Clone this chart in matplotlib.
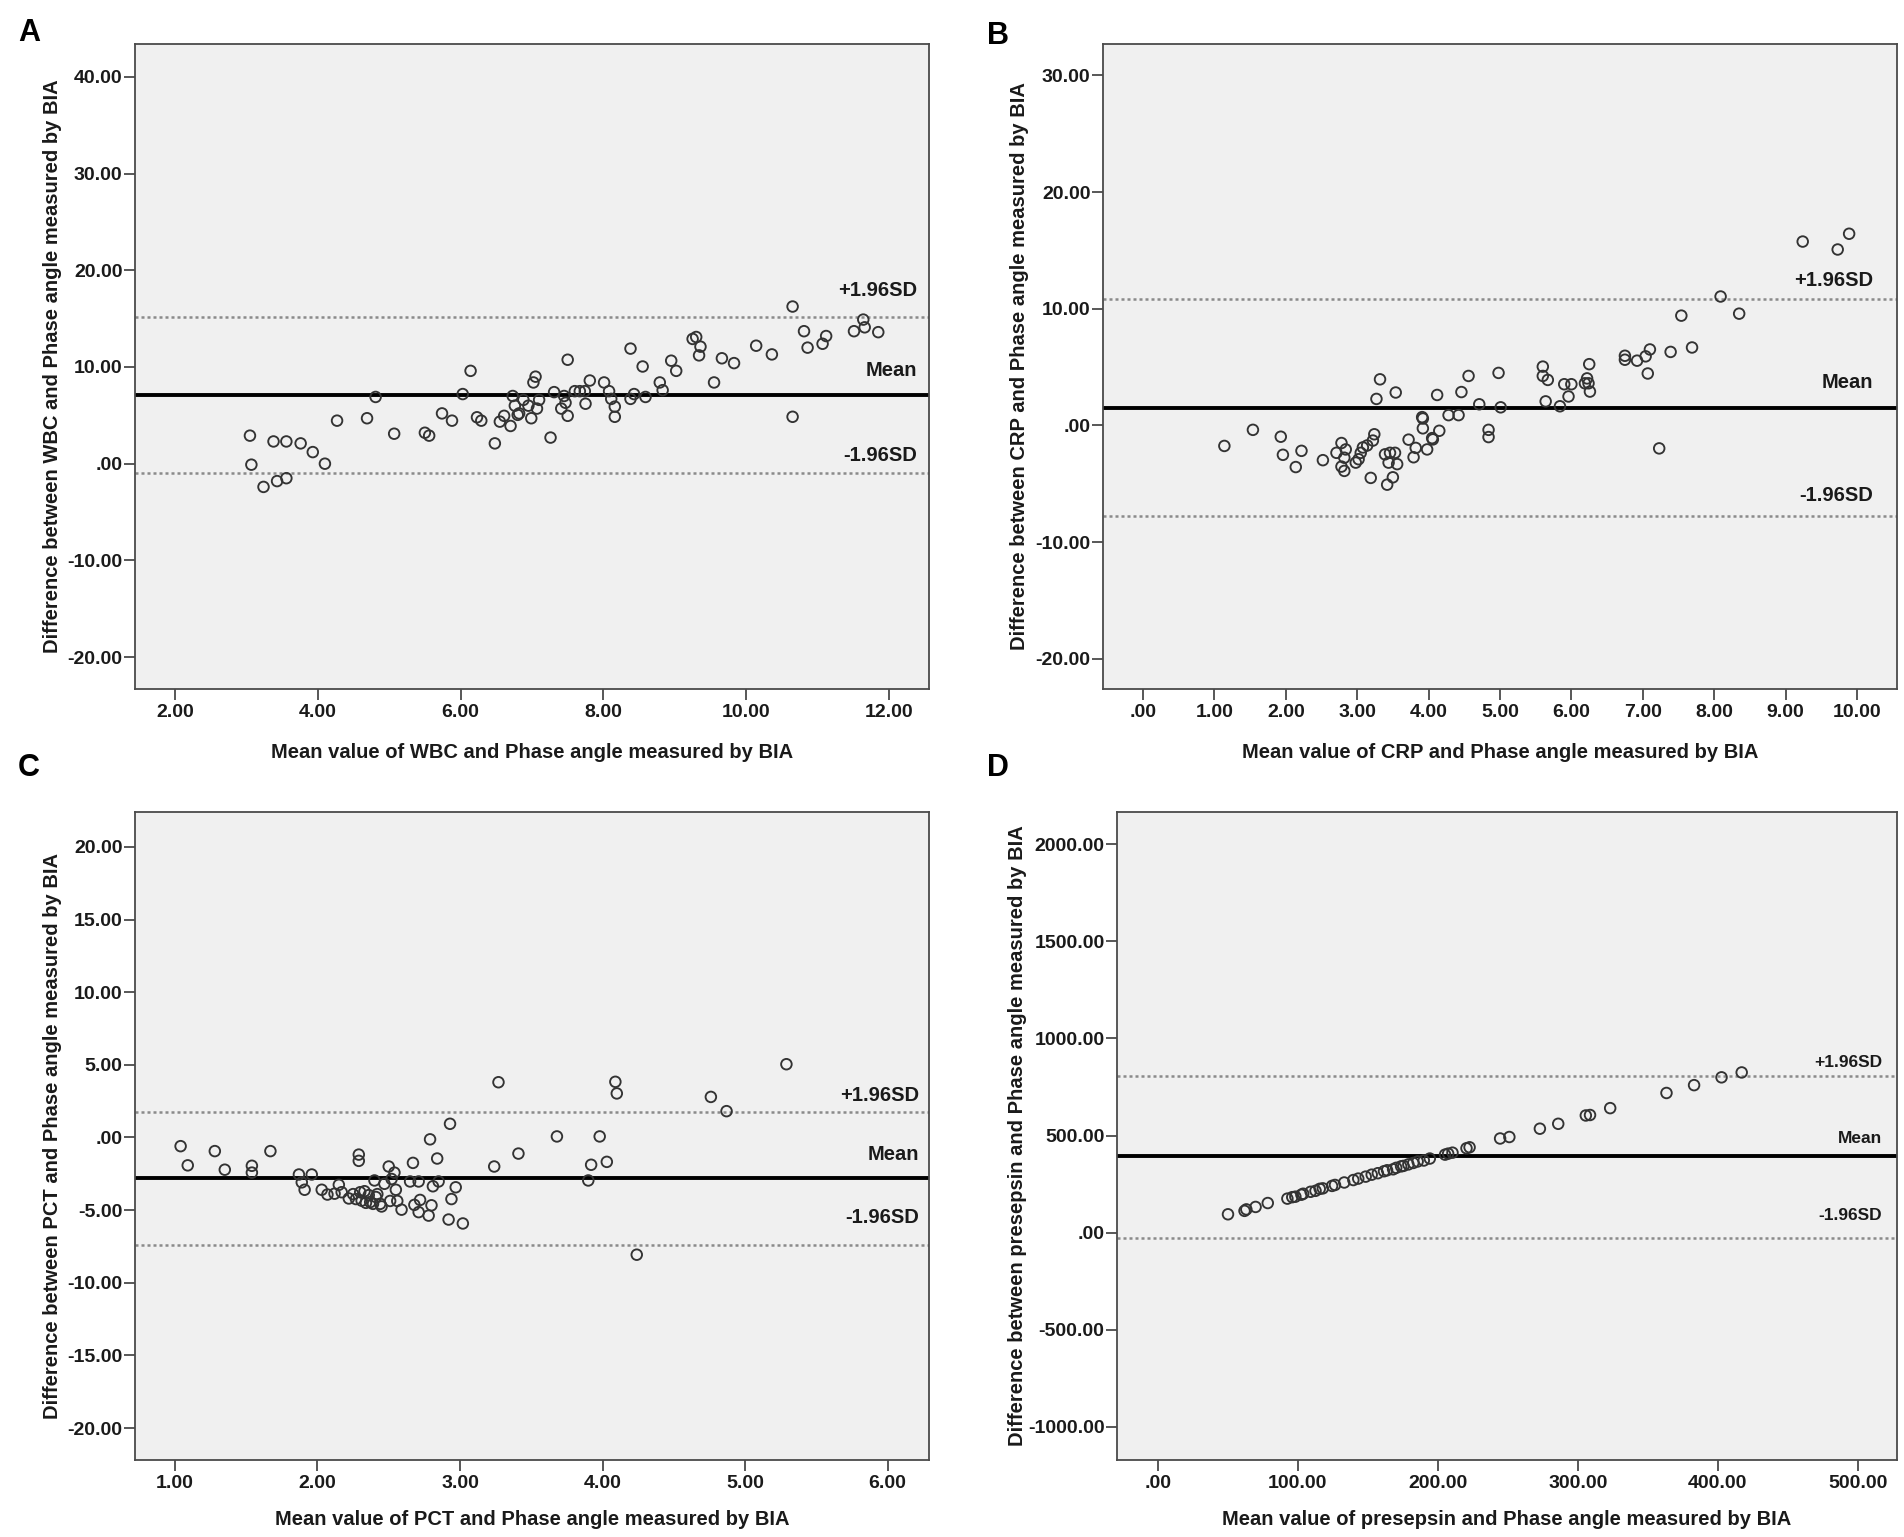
import numpy as np
import matplotlib
matplotlib.use("Agg")
import matplotlib.pyplot as plt
from matplotlib.ticker import FuncFormatter

NARROW = ['Liberation Sans Narrow', 'Liberation Sans', 'DejaVu Sans']
WIDE = ['Liberation Sans', 'DejaVu Sans']

# Panel A: WBC
wbc_mean = [3.05, 3.07, 3.24, 3.38, 3.43, 3.56, 3.56, 3.76, 3.93, 4.10, 4.27, 4.69, 4.81,
            5.07, 5.50, 5.56, 5.74, 5.88, 6.03, 6.14, 6.23, 6.29, 6.48, 6.55, 6.61, 6.70,
            6.73, 6.76, 6.80, 6.82, 6.88, 6.95, 6.99, 7.02, 7.05, 7.07, 7.10, 7.26, 7.31,
            7.41, 7.45, 7.47, 7.50, 7.50, 7.60, 7.67, 7.74, 7.75, 7.81, 8.01, 8.08, 8.11,
            8.16, 8.16, 8.38, 8.38, 8.43, 8.55, 8.59, 8.79, 8.83, 8.95, 9.02, 9.25, 9.30,
            9.36, 9.34, 9.55, 9.66, 9.83, 10.14, 10.36, 10.65, 10.65, 10.81, 10.86, 11.07,
            11.12, 11.51, 11.64, 11.66, 11.85]
wbc_diff = [2.9, -0.1, -2.4, 2.3, -1.8, 2.3, -1.5, 2.1, 1.2, 0.0, 4.45, 4.7, 6.9,
            3.1, 3.2, 2.9, 5.2, 4.45, 7.2, 9.6, 4.8, 4.45, 2.1, 4.35, 4.95, 3.9,
            7.0, 6.0, 5.05, 5.2, 6.6, 6.0, 4.7, 8.4, 9.0, 5.7, 6.6, 2.7, 7.4,
            5.7, 7.0, 6.3, 4.95, 10.75, 7.5, 7.5, 7.5, 6.2, 8.6, 8.4, 7.5, 6.7,
            5.9, 4.85, 11.9, 6.7, 7.2, 10.05, 6.9, 8.4, 7.6, 10.65, 9.6, 12.9, 13.1,
            12.1, 11.2, 8.4, 10.9, 10.4, 12.2, 11.3, 16.25, 4.85, 13.7, 12.0, 12.4,
            13.2, 13.7, 14.9, 14.1, 13.6]
wbc_lines = [15.15, 7.1, -1.0]
wbc_label_y = [17.9, 9.6, 0.8]

# Panel B: CRP
crp_mean = [1.14, 1.54, 1.93, 1.96, 2.14, 2.22, 2.52, 2.71, 2.78, 2.78, 2.82, 2.82, 2.84,
            2.98, 3.02, 3.05, 3.08, 3.14, 3.19, 3.22, 3.24, 3.27, 3.32, 3.39, 3.42, 3.44,
            3.46, 3.50, 3.53, 3.56, 3.54, 3.72, 3.79, 3.82, 3.91, 3.92, 3.92, 3.98, 4.05,
            4.06, 4.12, 4.15, 4.28, 4.42, 4.46, 4.56, 4.71, 4.84, 4.84, 4.98, 5.01, 5.60,
            5.60, 5.67, 5.64, 5.84, 5.90, 5.96, 6.00, 6.19, 6.22, 6.24, 6.25, 6.26, 6.75,
            6.75, 6.92, 7.04, 7.10, 7.07, 7.23, 7.39, 7.54, 7.69, 8.09, 8.35, 9.24, 9.73,
            9.89]
crp_diff = [-1.76, -0.38, -0.97, -2.52, -3.57, -2.18, -2.98, -2.35, -1.51, -3.53, -3.9, -2.77, -2.06,
            -3.19, -2.9, -2.35, -1.89, -1.72, -4.5, -1.3, -0.76, 2.27, 3.95, -2.48, -5.08, -3.19,
            -2.35, -4.45, -2.35, -3.32, 2.82, -1.22, -2.73, -1.93, 0.71, -0.25, 0.59, -2.06, -1.09,
            -1.2, 2.61, -0.46, 0.88, 0.88, 2.86, 4.24, 1.81, -0.38, -1.0, 4.5, 1.55, 5.04,
            4.24, 3.9, 2.06, 1.64, 3.53, 2.48, 3.53, 3.61, 4.03, 3.61, 5.25, 2.9, 5.97,
            5.63, 5.55, 5.92, 6.51, 4.45, -1.97, 6.3, 9.41, 6.68, 11.05, 9.58, 15.76, 15.08,
            16.43]
crp_lines = [10.87, 1.53, -7.8]
crp_label_y = [12.4, 3.67, -6.0]

# Panel C: PCT
pct_mean = [1.04, 1.09, 1.28, 1.35, 1.54, 1.54, 1.67, 1.87, 1.89, 1.91, 1.96, 2.03, 2.07,
            2.12, 2.15, 2.17, 2.22, 2.25, 2.27, 2.29, 2.29, 2.30, 2.33, 2.34, 2.36, 2.39,
            2.40, 2.42, 2.44, 2.47, 2.50, 2.51, 2.52, 2.54, 2.55, 2.56, 2.59, 2.65, 2.67,
            2.68, 2.71, 2.72, 2.71, 2.78, 2.79, 2.80, 2.81, 2.84, 2.85, 2.93, 2.92, 2.94,
            2.97, 3.02, 3.24, 3.27, 3.41, 3.68, 3.90, 3.92, 3.98, 4.03, 4.09, 4.10, 4.24,
            4.76, 4.87, 5.29, 2.37, 2.45, 2.41, 2.31]
pct_diff = [-0.6, -1.92, -0.94, -2.22, -1.95, -2.42, -0.94, -2.55, -3.09, -3.6, -2.55, -3.6, -3.93,
            -3.87, -3.26, -3.77, -4.2, -3.9, -4.24, -1.18, -1.61, -3.77, -3.7, -4.5, -3.97, -4.57,
            -2.96, -3.9, -4.57, -3.19, -2.0, -4.37, -2.86, -2.42, -3.6, -4.37, -4.97, -3.03, -1.75,
            -4.64, -3.03, -4.3, -5.14, -5.38, -0.13, -4.67, -3.36, -1.45, -3.03, 0.94, -5.65, -4.24,
            -3.43, -5.92, -2.0, 3.8, -1.11, 0.07, -2.96, -1.88, 0.07, -1.68, 3.83, 3.03, -8.07,
            2.79, 1.81, 5.04, -4.45, -4.75, -4.1, -4.35]
pct_lines = [1.76, -2.76, -7.4]
pct_label_y = [2.9, -1.14, -5.5]

# Panel D: presepsin
pre_mean = [50.2, 62.0, 63.3, 69.9, 78.6, 92.6, 96.1, 98.3, 102.6, 103.9, 109.2, 112.7, 115.7,
            117.9, 124.5, 126.6, 133.2, 139.7, 143.2, 148.5, 152.8, 157.2, 161.6, 163.8, 168.1,
            170.3, 173.8, 175.5, 179.0, 182.5, 185.6, 190.0, 194.3, 205.2, 207.4, 210.5, 220.5,
            222.7, 244.5, 251.1, 272.9, 286.0, 305.7, 308.7, 323.1, 363.3, 383.0, 402.6, 417.0]
pre_diff = [94.6, 112.2, 119.8, 132.4, 152.5, 175.2, 182.7, 185.2, 195.3, 200.3, 210.4, 215.4, 225.5,
            228.0, 240.6, 245.6, 258.2, 270.8, 278.3, 288.4, 298.4, 306.0, 316.1, 321.1, 326.1,
            333.7, 341.2, 343.7, 351.3, 358.8, 366.4, 371.4, 381.5, 401.6, 406.7, 411.7, 434.4,
            439.4, 484.7, 492.3, 535.1, 560.3, 603.1, 605.6, 640.9, 718.9, 759.2, 799.4, 824.6]
pre_lines = [805, 392, -26]
pre_label_y = [876, 485, 88]

line_texts = ['+1.96SD', 'Mean', '-1.96SD']


def spss_fmt(v, pos):
    s = f"{v:.2f}"
    if s in ("0.00", "-0.00"):
        return ".00"
    return s


fig = plt.figure(figsize=(19.04, 15.37), dpi=100)

panels = [
    # letter, rect, x, y, lines, label_y, xlim, ylim, xticks, yticks, name, ylabel_x, xlabel_y, text_x, text_size
    ('A', [0.0709, 0.5517, 0.4170, 0.4197], wbc_mean, wbc_diff, wbc_lines, wbc_label_y,
     (1.44, 12.56), (-23.3, 43.4), np.arange(2, 13, 2), np.arange(-20, 41, 10), 'WBC',
     -0.092, -0.083, 0.985, 14.5),
    ('B', [0.5793, 0.5517, 0.4170, 0.4197], crp_mean, crp_diff, crp_lines, crp_label_y,
     (-0.56, 10.56), (-22.6, 32.7), np.arange(0, 11, 1), np.arange(-20, 31, 10), 'CRP',
     -0.093, -0.083, 0.970, 14.5),
    ('C', [0.0709, 0.0501, 0.4170, 0.4216], pct_mean, pct_diff, pct_lines, pct_label_y,
     (0.72, 6.29), (-22.2, 22.4), np.arange(1, 7, 1), np.arange(-20, 21, 5), 'PCT',
     -0.092, -0.077, 0.988, 14.5),
    ('D', [0.5867, 0.0501, 0.4097, 0.4216], pre_mean, pre_diff, pre_lines, pre_label_y,
     (-29, 528), (-1170, 2165), np.arange(0, 501, 100), np.arange(-1000, 2001, 500), 'presepsin',
     -0.116, -0.077, 0.981, 12.5),
]

letter_pos = {'A': (18, 33), 'B': (987, 36), 'C': (18, 768), 'D': (987, 768)}

for (letter, rect, xs, ys, lines, label_y, xlim, ylim, xticks, yticks,
     name, ylab_x, xlab_y, text_x, text_size) in panels:
    ax = fig.add_axes(rect)
    ax.set_facecolor('#f0f0f0')
    ax.scatter(xs, ys, s=58, facecolors='none', edgecolors='#333333', linewidths=1.35, zorder=3)

    ax.axhline(lines[0], color='#8a8a8a', lw=1.8, ls=(0, (1.2, 1.2)), zorder=2)
    ax.axhline(lines[1], color='black', lw=2.8, zorder=2)
    ax.axhline(lines[2], color='#8a8a8a', lw=1.8, ls=(0, (1.2, 1.2)), zorder=2)
    trans = ax.get_yaxis_transform()
    for txt, ly in zip(line_texts, label_y):
        ax.text(text_x, ly, txt, transform=trans, ha='right', va='center',
                fontsize=text_size, fontweight='bold', family=NARROW, color='#1a1a1a')

    ax.set_xlim(*xlim)
    ax.set_ylim(*ylim)
    ax.set_xticks(xticks)
    ax.set_yticks(yticks)
    ax.xaxis.set_major_formatter(FuncFormatter(spss_fmt))
    ax.yaxis.set_major_formatter(FuncFormatter(spss_fmt))
    ax.tick_params(axis='both', direction='out', length=8, width=1.3, color='#4a4a4a')
    ax.tick_params(axis='x', pad=3)
    ax.tick_params(axis='y', pad=1)
    ax.tick_params(top=False, right=False)
    for lab in ax.get_xticklabels() + ax.get_yticklabels():
        lab.set_family(NARROW)
        lab.set_fontweight('bold')
        lab.set_fontsize(14)
        lab.set_color('#1a1a1a')
    for sp in ax.spines.values():
        sp.set_color('#4a4a4a')
        sp.set_linewidth(1.3)

    ax.set_xlabel(f'Mean value of {name} and Phase angle measured by BIA',
                  fontsize=14.5, fontweight='bold', family=NARROW, color='#1a1a1a')
    ax.xaxis.set_label_coords(0.5, xlab_y)
    ax.set_ylabel(f'Difference between {name} and Phase angle measured by BIA',
                  fontsize=14.5, fontweight='bold', family=WIDE, color='#1a1a1a')
    ax.yaxis.set_label_coords(ylab_x, 0.5)

    px, py = letter_pos[letter]
    fig.text(px / 1904, 1 - py / 1537, letter, ha='left', va='center',
             fontsize=22, fontweight='bold', family=WIDE)

fig.savefig('out.png', dpi=100, facecolor='white')
